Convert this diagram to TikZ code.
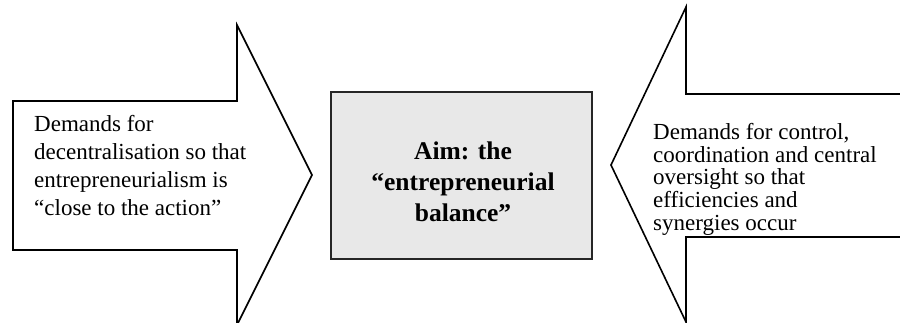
\documentclass[tikz,border=0pt]{standalone}
\usepackage{fontspec}
\setmainfont{Liberation Serif}
\begin{document}
\begin{tikzpicture}[x=1pt,y=-1pt,
  outline/.style={draw=black,line width=1.6pt,line join=miter},
  bodytext/.style={inner sep=0pt,align=left,anchor=north west},
  aimbox/.style={draw=black!85,line width=2pt,fill=black!9}]
\useasboundingbox (0,0) rectangle (900,322);
\clip (0,0) rectangle (900,322);
% left block arrow pointing right
\draw[outline] (13,101) -- (237,101) -- (237,25) -- (312,175)
  -- (237,325) -- (237,250) -- (13,250) -- cycle;
% right block arrow pointing left (tail runs off the edge)
\draw[outline] (910,94) -- (686,94) -- (686,7) -- (611,165)
  -- (686,322) -- (686,237) -- (910,237);
% central box
\draw[aimbox] (331,92) rectangle (592,259);
\node[bodytext,font=\fontsize{23}{28}\selectfont] (left) at (34,115)
  {Demands for\\decentralisation so that\\entrepreneurialism is\\``close to the action''};
\node[bodytext,font=\fontsize{23}{22.7}\selectfont] (right) at (653,123)
  {Demands for control,\\coordination and central\\oversight so that\\efficiencies and\\synergies occur};
\node[inner sep=0pt,align=center,font=\fontsize{25.5}{31}\selectfont\bfseries] (aim) at (463,181.5)
  {Aim: the\\``entrepreneurial\\balance''};
\end{tikzpicture}
\end{document}
